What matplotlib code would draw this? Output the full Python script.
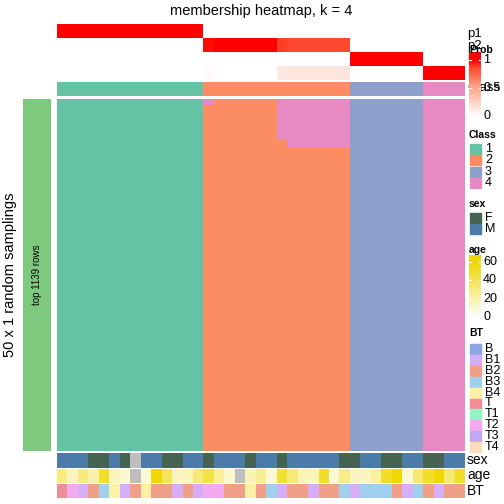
import matplotlib
matplotlib.use("Agg")
import matplotlib.pyplot as plt
import numpy as np
from matplotlib.colors import ListedColormap, LinearSegmentedColormap
from matplotlib.patches import Rectangle

plt.rcParams['font.family'] = ['Liberation Sans', 'DejaVu Sans']

# ---------------------------------------------------------------------
#  data (one entry per column / sample)
# ---------------------------------------------------------------------
col_class = [1, 1, 1, 1, 1, 1, 1, 1, 1, 1, 1, 1, 1, 1,
             2, 2, 2, 2, 2, 2, 2, 2, 2, 2, 2, 2, 2, 2,
             3, 3, 3, 3, 3, 3, 3,
             4, 4, 4, 4]
# samplings (of 50) in which the column went to class 4 instead
n_class4 = [0, 0, 0, 0, 0, 0, 0, 0, 0, 0, 0, 0, 0, 0,
            1, 0, 0, 0, 0, 0, 0, 6, 7, 7, 7, 7, 7, 7,
            0, 0, 0, 0, 0, 0, 0,
            0, 0, 0, 0]
n_samplings = 50

sex = ["M", "M", "M", "F", "F", "M", "F", None, "M", "M", "F", "F", "M", "M",
       "F", "M", "M", "M", "F", "M", "M", "F", "M", "M", "M", "M", "M", "F",
       "F", "M", "M", "F", "F", "M", "M", "F", "F", "M", "M"]
age = [30, 15, 30, 20, 50, 15, 12, None, 10, 58, 38, 15, 16, 32,
       44, 24, 12, None, 18, 25, 10, 48, 32, 18, 16, 50, 10, 28,
       15, 15, 22, 50, 60, 10, 33, 50, 60, 33, 50]
bt = ["T", "T2", "B1", "B2", "B3", "B4", "B1", "B2", "B4", "B2", "B2", "B1", "B2", "B1",
      "T2", "T2", "B2", "B2", "B4", "B2", "B3", "B1", "B2", "B2", "B1", "B2", "B2", "B3",
      "B1", "B3", "B3", "B3", "B2", "B1", "B3", "B2", "B1", "B2", "B2"]

class_labels = ["1", "2", "3", "4"]
sex_labels = ["F", "M"]
bt_labels = ["B", "B1", "B2", "B3", "B4", "T", "T1", "T2", "T3", "T4"]

# ---------------------------------------------------------------------
#  colours
# ---------------------------------------------------------------------
class_cols = ["#66C2A5", "#FC8D62", "#8DA0CB", "#E78AC3"]
sex_cols = {"F": "#456350", "M": "#4B7BA8"}
na_col = "#BEBEBE"
bt_cols = {"B": "#8AA6E6", "B1": "#D6AEF8", "B2": "#F0A088", "B3": "#A0D0EE",
           "B4": "#FBF2A8", "T": "#F08E98", "T1": "#90F6C8", "T2": "#F2AAF0",
           "T3": "#C2A8F2", "T4": "#FDDCB8"}
prob_cmap = LinearSegmentedColormap.from_list(
    "prob", [(0, "#FFFFFF"), (0.15, "#FEE4DC"), (0.5, "#FFA88C"),
             (0.86, "#FF4A30"), (1, "#FF0000")])
age_cmap = LinearSegmentedColormap.from_list("age", ["#FFFFFF", "#F0D700"])
age_max = 60

W = H = 504
fig = plt.figure(figsize=(5.04, 5.04), dpi=100)


def ax_px(x0, y0, x1, y1):
    """axes from pixel box (y measured from the top)"""
    ax = fig.add_axes([x0 / W, 1 - y1 / H, (x1 - x0) / W, (y1 - y0) / H])
    ax.set_axis_off()
    return ax


def txt(x, y, s, **kw):
    kw.setdefault("fontsize", 9)
    kw.setdefault("va", "center")
    fig.text(x / W, 1 - y / H, s, **kw)


ncol = len(col_class)
X0, X1 = 57, 465

# ---------------------------------------------------------------------
#  main membership matrix (rows = samplings)
# ---------------------------------------------------------------------
mat = np.zeros((n_samplings, ncol), dtype=int)
for j, (c, n4) in enumerate(zip(col_class, n_class4)):
    mat[:, j] = c - 1
    mat[:n4, j] = 3
ax = ax_px(X0, 98.5, X1, 451)
ax.imshow(mat, cmap=ListedColormap(class_cols), vmin=0, vmax=3,
          aspect="auto", interpolation="nearest")

# membership probabilities
prob = np.array([(mat == k).mean(axis=0) for k in range(4)])
ax = ax_px(X0, 24, X1, 80)
ax.imshow(prob, cmap=prob_cmap, vmin=0, vmax=1, aspect="auto",
          interpolation="nearest")

# class row
ax = ax_px(X0, 82, X1, 96)
ax.imshow(np.array(col_class)[None, :] - 1, cmap=ListedColormap(class_cols),
          vmin=0, vmax=3, aspect="auto", interpolation="nearest")

# ---------------------------------------------------------------------
#  bottom annotations
# ---------------------------------------------------------------------
ax = ax_px(X0, 453.3, X1, 467.7)
ax.imshow([[matplotlib.colors.to_rgb(sex_cols[s] if s else na_col) for s in sex]],
          aspect="auto", interpolation="nearest")

ax = ax_px(X0, 469, X1, 482.7)
age_rgb = [matplotlib.colors.to_rgb(na_col) if a is None else age_cmap(a / age_max)[:3]
           for a in age]
ax.imshow([age_rgb], aspect="auto", interpolation="nearest")

ax = ax_px(X0, 484, X1, 498.3)
ax.imshow([[matplotlib.colors.to_rgb(bt_cols[b]) for b in bt]],
          aspect="auto", interpolation="nearest")

txt(467, 460, "sex", fontsize=10)
txt(467, 475.5, "age", fontsize=10)
txt(467, 491, "BT", fontsize=10)

# left bar + titles
ax = ax_px(23, 99, 51, 451)
ax.add_patch(Rectangle((0, 0), 1, 1, color="#7FC97F"))
ax.set_xlim(0, 1)
ax.set_ylim(0, 1)
txt(37, 275, "top 1139 rows", fontsize=7, rotation=90, ha="center")
txt(10, 275, "50 x 1 random samplings", fontsize=10.5, rotation=90, ha="center")
txt(261, 11, "membership heatmap, k = 4", fontsize=10.5, ha="center")

# ---------------------------------------------------------------------
#  right side: row names + legends
# ---------------------------------------------------------------------
# row names sit underneath the legend (as in the original drawing)
for lab, y in zip(["p1", "p2", "p3", "p4", "Class"], [34, 46, 59, 73, 88]):
    txt(467, y, lab, fontsize=9.5, zorder=-1)


def colorbar(y_top, y_hi, y_lo, y_bot, cmap, ticks, labels):
    # y_hi / y_lo are the pixel rows of the max / min tick
    ax = ax_px(469, y_top, 481, y_bot)
    vmax_px = (y_lo - y_top) / (y_lo - y_hi)
    vmin_px = -(y_bot - y_lo) / (y_lo - y_hi)
    grad = np.clip(np.linspace(vmin_px, vmax_px, 200), 0, 1)[:, None]
    ax.imshow(grad, cmap=cmap, vmin=0, vmax=1, aspect="auto", origin="lower",
              extent=[0, 1, vmin_px, vmax_px])
    ax.set_xlim(0, 1)
    ax.set_ylim(vmin_px, vmax_px)
    for t, lab in zip(ticks, labels):
        ax.plot([0, 0.2], [t, t], color="white", lw=0.8)
        ax.plot([0.8, 1], [t, t], color="white", lw=0.8)
        txt(483, y_lo - t * (y_lo - y_hi), lab, fontsize=9)


txt(469, 50, "Prob", fontsize=7.5, fontweight="bold")
colorbar(52, 60, 116, 120, prob_cmap, [0, 0.5, 1], ["0", "0.5", "1"])


def discrete_legend(title, y_title, labels, colours, y0, step):
    txt(469, y_title, title, fontsize=7.5, fontweight="bold")
    for i, (lab, c) in enumerate(zip(labels, colours)):
        y = y0 + i * step
        fig.add_artist(Rectangle((470 / W, 1 - (y + 5) / H), 11 / W, 10 / H,
                                 color=c, transform=fig.transFigure))
        txt(485, y, lab, fontsize=9)


discrete_legend("Class", 135, class_labels, class_cols, 149, 11.3)
discrete_legend("sex", 204, sex_labels, [sex_cols[s] for s in sex_labels], 218, 11.3)

txt(469, 250, "age", fontsize=7.5, fontweight="bold")
colorbar(255, 262, 317, 320, age_cmap, [0, 1 / 3, 2 / 3, 1], ["0", "20", "40", "60"])

discrete_legend("BT", 333, bt_labels, [bt_cols[b] for b in bt_labels], 349, 10.9)

fig.savefig("out.png", dpi=100)
